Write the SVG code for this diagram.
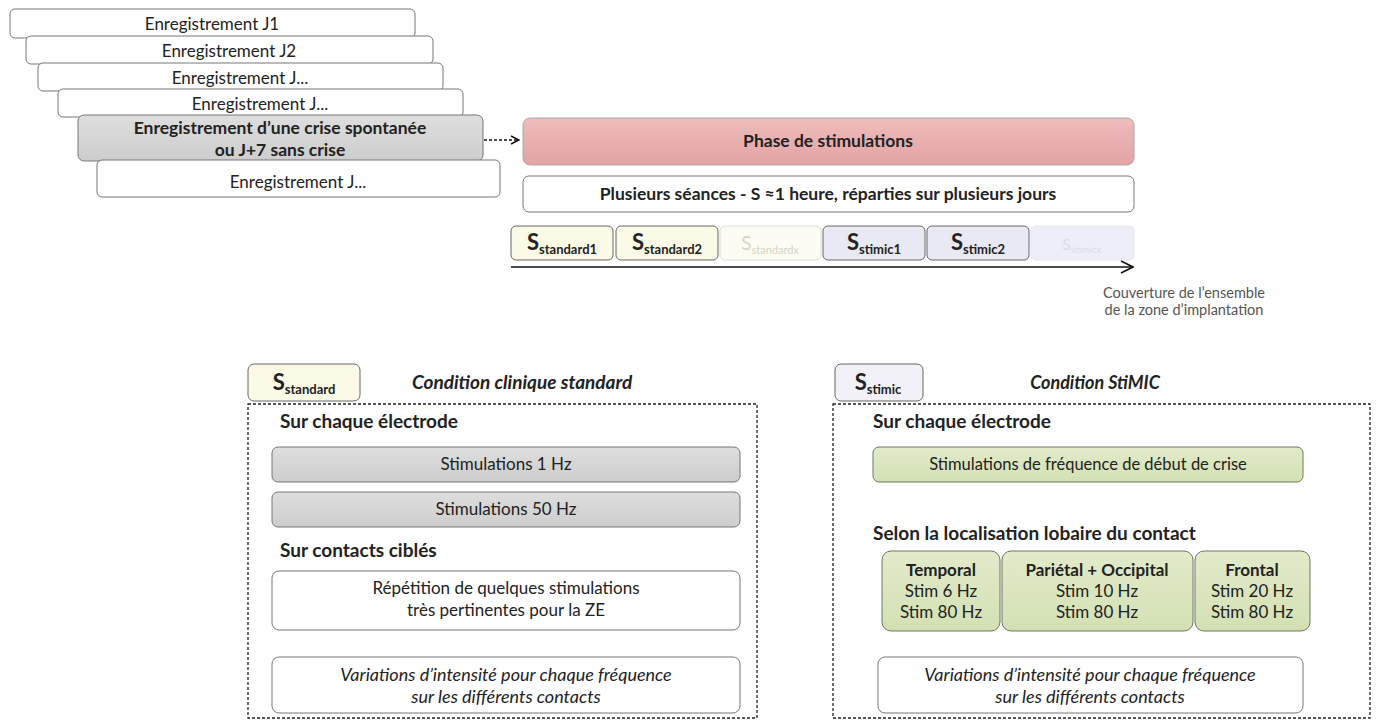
<svg xmlns="http://www.w3.org/2000/svg" width="1376" height="722" viewBox="0 0 1376 722">
<defs>
<marker id="chev" viewBox="0 0 10 10" refX="9" refY="5" markerWidth="10" markerHeight="10" markerUnits="userSpaceOnUse" orient="auto">
<path d="M1,1 L9,5 L1,9" fill="none" stroke="#111" stroke-width="1.4"/>
</marker>
<marker id="chev2" viewBox="0 0 14 14" refX="13" refY="7" markerWidth="14" markerHeight="14" markerUnits="userSpaceOnUse" orient="auto">
<path d="M1,1 L13,7 L1,13" fill="none" stroke="#111" stroke-width="1.6"/>
</marker>
<linearGradient id="pink" x1="0" y1="0" x2="0" y2="1">
<stop offset="0" stop-color="#eebcbc"/><stop offset="1" stop-color="#e3a3a3"/>
</linearGradient>
<linearGradient id="grey" x1="0" y1="0" x2="0" y2="1">
<stop offset="0" stop-color="#dedede"/><stop offset="1" stop-color="#cdcdcd"/>
</linearGradient>
<linearGradient id="green" x1="0" y1="0" x2="0" y2="1">
<stop offset="0" stop-color="#e2ebca"/><stop offset="1" stop-color="#d3e0b3"/>
</linearGradient>
</defs>
<style>
text{font-family:Lato,"Liberation Sans",sans-serif;fill:#222}
.c{text-anchor:middle}
.b{font-weight:bold}
.i{font-style:italic}
.rec{fill:#fff;stroke:#777;stroke-width:1}
.gry{fill:url(#grey);stroke:#777;stroke-width:1}
.grn{fill:url(#green);stroke:#6f7560;stroke-width:1}
.std{fill:#fafae6;stroke:#666;stroke-width:1}
.stdf{fill:#fcfcf2;stroke:#ddd;stroke-width:1}
.stm{fill:#e9e9f4;stroke:#666;stroke-width:1}
.stmf{fill:#eeeef8;stroke:#e6e6f0;stroke-width:1}
.dash{fill:none;stroke:#222;stroke-width:1.3;stroke-dasharray:3 2}
.t17{font-size:17px}
.t16{font-size:16.5px}
.h{font-size:17.5px;font-weight:bold}
.h2{font-size:19px;font-weight:bold}
.big{font-size:22px;font-weight:bold}
.sub{font-size:13px;font-weight:bold}
</style>

<rect width="1376" height="722" fill="#fff"/>

<g id="rec-j1"><rect class="rec" x="10" y="9" width="405" height="29" rx="5"/><text class="c t17" x="212" y="30">Enregistrement J1</text></g>
<g id="rec-j2"><rect class="rec" x="26" y="36" width="407" height="28" rx="5"/><text class="c t17" x="229" y="57">Enregistrement J2</text></g>
<g id="rec-j3"><rect class="rec" x="38" y="63" width="405" height="28" rx="5"/><text class="c t17" x="240" y="84">Enregistrement J...</text></g>
<g id="rec-j4"><rect class="rec" x="58" y="89" width="405" height="28" rx="5"/><text class="c t17" x="260" y="110">Enregistrement J...</text></g>
<g id="rec-crise"><rect class="gry" x="78" y="115" width="405" height="46" rx="6"/><text class="c b" font-size="17.5" x="280" y="134">Enregistrement d’une crise spontanée</text><text class="c b" font-size="17.5" x="280" y="156">ou J+7 sans crise</text></g>
<g id="rec-j5"><rect class="rec" x="97" y="160" width="403" height="37" rx="5"/><text class="c t17" x="298" y="188">Enregistrement J...</text></g>

<g id="phase"><rect x="523" y="118" width="611" height="47" rx="7" fill="url(#pink)" stroke="#aaa"/><text class="c h" x="828" y="147">Phase de stimulations</text></g>
<g id="seances"><rect class="rec" x="523" y="176" width="611" height="36" rx="6" stroke="#999"/><text class="c h" x="828" y="200">Plusieurs séances - S ≈1 heure, réparties sur plusieurs jours</text></g>

<g id="s-standard1"><rect class="std" x="511" y="226" width="102" height="34" rx="5"/><text class="c" x="562" y="250"><tspan class="big">S</tspan><tspan class="sub" dy="4">standard1</tspan></text></g>
<g id="s-standard2"><rect class="std" x="616" y="226" width="102" height="34" rx="5"/><text class="c" x="667" y="250"><tspan class="big">S</tspan><tspan class="sub" dy="4">standard2</tspan></text></g>
<g id="s-standardx"><rect class="stdf" x="720" y="226" width="101" height="34" rx="5"/><text class="c" x="770" y="250" style="fill:#d6d6c4"><tspan font-size="19" style="fill:#d6d6c4">S</tspan><tspan font-size="11" dy="4" style="fill:#d6d6c4">standardx</tspan></text></g>
<g id="s-stimic1"><rect class="stm" x="823" y="226" width="102" height="34" rx="5"/><text class="c" x="874" y="250"><tspan class="big">S</tspan><tspan class="sub" dy="4">stimic1</tspan></text></g>
<g id="s-stimic2"><rect class="stm" x="927" y="226" width="102" height="34" rx="5"/><text class="c" x="978" y="250"><tspan class="big">S</tspan><tspan class="sub" dy="4">stimic2</tspan></text></g>
<g id="s-stimicx"><rect class="stmf" x="1031" y="226" width="103" height="34" rx="5"/><text class="c" x="1082" y="250" style="fill:#dadaea"><tspan font-size="15" style="fill:#dadaea">S</tspan><tspan font-size="10" dy="3" style="fill:#dadaea">stimicx</tspan></text></g>

<g id="couverture"><text class="c" x="1184" y="298" font-size="14.5" style="fill:#555">Couverture de l’ensemble</text><text class="c" x="1184" y="315" font-size="14.5" style="fill:#555">de la zone d’implantation</text></g>

<g id="connectors">
<line x1="484" y1="140" x2="519" y2="140" stroke="#111" stroke-width="1.3" stroke-dasharray="3 2" marker-end="url(#chev)"/>
<line x1="511" y1="267" x2="1133" y2="267" stroke="#111" stroke-width="1.6" marker-end="url(#chev2)"/>
</g>

<g id="standard">
<rect class="std" x="248" y="364" width="112" height="37" rx="6"/>
<text class="c" x="304" y="390"><tspan class="big">S</tspan><tspan class="sub" dy="4">standard</tspan></text>
<text class="i b" x="412" y="389" font-size="19">Condition clinique standard</text>
<rect class="dash" x="248" y="404" width="509" height="314"/>
<text class="h2" x="280" y="428">Sur chaque électrode</text>
<rect class="gry" x="272" y="447" width="468" height="35" rx="6"/>
<text class="c t17" x="506" y="470">Stimulations 1  Hz</text>
<rect class="gry" x="272" y="492" width="468" height="35" rx="6"/>
<text class="c t17" x="506" y="515">Stimulations 50  Hz</text>
<text class="h2" x="280" y="557">Sur contacts ciblés</text>
<rect class="rec" x="272" y="571" width="468" height="59" rx="7"/>
<text class="c t17" x="506" y="594">Répétition de quelques stimulations</text>
<text class="c t17" x="506" y="616">très pertinentes pour la ZE</text>
<rect class="rec" x="272" y="657" width="468" height="56" rx="7"/>
<text class="c i" font-size="18" x="506" y="681">Variations d’intensité pour chaque fréquence</text>
<text class="c i" font-size="18" x="506" y="703">sur les différents contacts</text>
</g>

<g id="stimic">
<rect class="stm" x="835" y="364" width="88" height="37" rx="6" style="fill:#f1f1f7"/>
<text class="c" x="878" y="390"><tspan class="big">S</tspan><tspan class="sub" dy="4">stimic</tspan></text>
<text class="c i b" x="1095" y="389" font-size="18">Condition StiMIC</text>
<rect class="dash" x="833" y="404" width="537" height="314"/>
<text class="h2" x="873" y="428">Sur chaque électrode</text>
<rect class="grn" x="873" y="447" width="430" height="35" rx="6"/>
<text class="c t16" x="1088" y="470">Stimulations de fréquence de début de crise</text>
<text class="h2" x="873" y="540">Selon la localisation lobaire du contact</text>
<rect class="grn" x="882" y="551" width="118" height="80" rx="9"/>
<text class="c t17 b" x="941" y="576">Temporal</text>
<text class="c t17" x="941" y="597">Stim 6 Hz</text>
<text class="c t17" x="941" y="618">Stim 80 Hz</text>
<rect class="grn" x="1002" y="551" width="191" height="80" rx="9"/>
<text class="c t17 b" x="1097" y="576">Pariétal + Occipital</text>
<text class="c t17" x="1097" y="597">Stim 10  Hz</text>
<text class="c t17" x="1097" y="618">Stim 80 Hz</text>
<rect class="grn" x="1195" y="551" width="115" height="80" rx="9"/>
<text class="c t17 b" x="1252" y="576">Frontal</text>
<text class="c t17" x="1252" y="597">Stim  20 Hz</text>
<text class="c t17" x="1252" y="618">Stim 80 Hz</text>
<rect class="rec" x="878" y="657" width="425" height="56" rx="7"/>
<text class="c i" font-size="18" x="1090" y="681">Variations d’intensité pour chaque fréquence</text>
<text class="c i" font-size="18" x="1090" y="703">sur les différents contacts</text>
</g>
</svg>
